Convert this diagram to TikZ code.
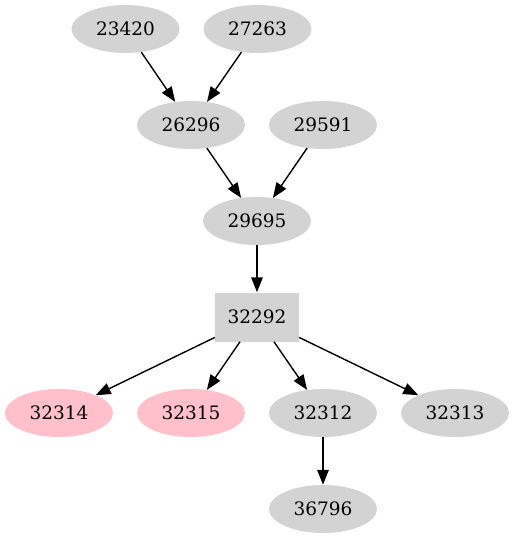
\documentclass[tikz,border=0pt]{standalone}
\usepackage{fontspec}
\setmainfont{DejaVu Serif}
\usetikzlibrary{arrows.meta,shapes.geometric}
\definecolor{jobgray}{HTML}{D3D3D3}
\definecolor{jobpink}{HTML}{FFC0CB}

\begin{document}
\begin{tikzpicture}[x=1pt, y=-1pt,
   job/.style={ellipse, fill=jobgray, minimum width=108pt, minimum height=48pt, inner sep=0pt, font=\fontsize{18.5}{20}\selectfont},
   failed/.style={job, fill=jobpink},
   root/.style={rectangle, fill=jobgray, minimum width=84pt, minimum height=49pt, inner sep=0pt, font=\fontsize{18.5}{20}\selectfont},
   dep/.style={-{Triangle[length=15pt, width=11.5pt]}, line width=1.4pt}]
   \useasboundingbox (0,0) rectangle (514,539);

   \node [job] (n23420) at (125.5,29) {23420};
   \node [job] (n27263) at (257.5,29) {27263};
   \node [job] (n26296) at (191,125) {26296};
   \node [job] (n29591) at (323,125) {29591};
   \node [job] (n29695) at (257,221) {29695};
   \node [root] (n32292) at (257,317) {32292};
   \node [failed] (n32314) at (59,413) {32314};
   \node [failed] (n32315) at (191,413) {32315};
   \node [job] (n32312) at (323,413) {32312};
   \node [job] (n32313) at (455,413) {32313};
   \node [job] (n36796) at (323,509) {36796};

   \draw [dep] (n23420) -- (n26296);
   \draw [dep] (n27263) -- (n26296);
   \draw [dep] (n26296) -- (n29695);
   \draw [dep] (n29591) -- (n29695);
   \draw [dep] (n29695) -- (n32292);
   \draw [dep] (n32292) -- (n32314);
   \draw [dep] (n32292) -- (n32315);
   \draw [dep] (n32292) -- (n32312);
   \draw [dep] (n32292) -- (n32313);
   \draw [dep] (n32312) -- (n36796);
\end{tikzpicture}
\end{document}
